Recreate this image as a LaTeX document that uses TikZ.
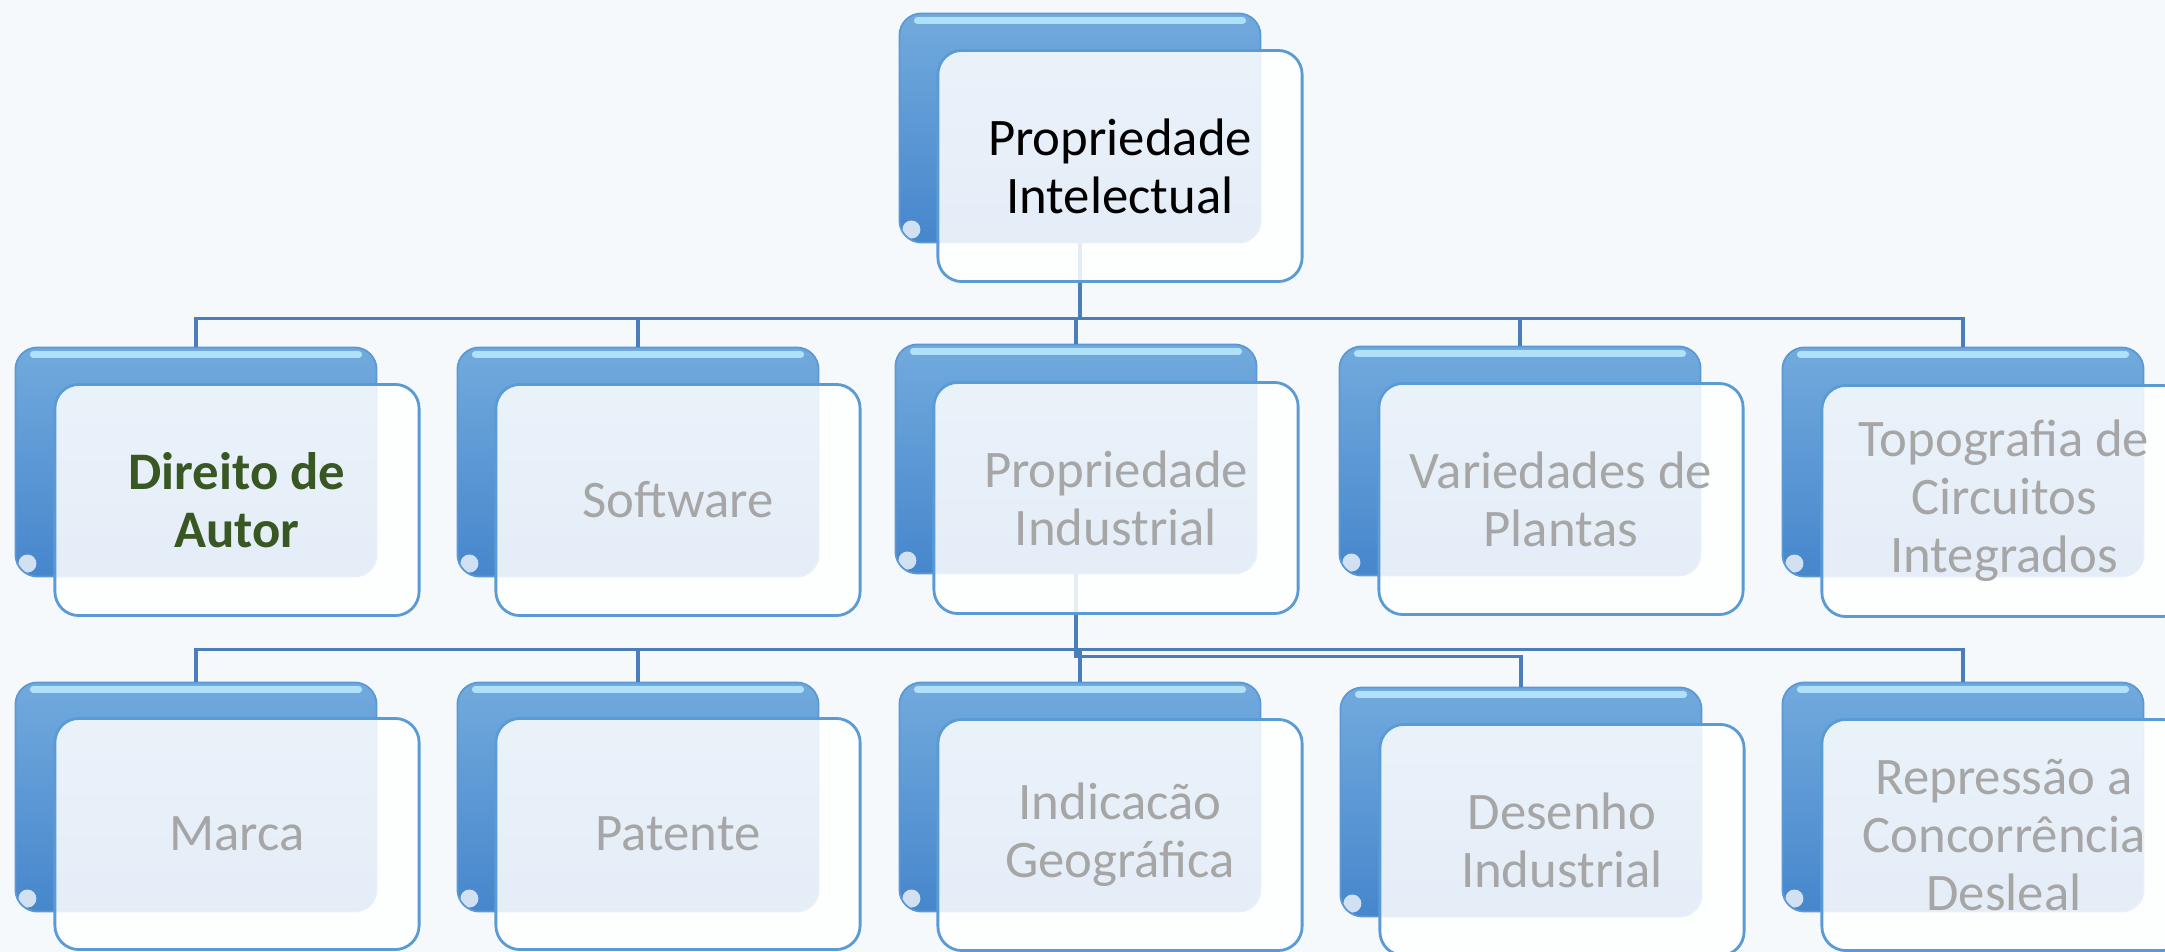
\documentclass[tikz,border=0pt]{standalone}
\usepackage{fontspec}
\setmainfont{Carlito}
\usepackage{tikz}

\definecolor{paper}{HTML}{F5F9FB}
\definecolor{bluetop}{HTML}{72AADD}
\definecolor{bluebot}{HTML}{4686CC}
\definecolor{blueedge}{HTML}{5C98D3}
\definecolor{gloss}{HTML}{BFEFFF}
\definecolor{frameblue}{HTML}{5B9BD5}
\definecolor{linkblue}{HTML}{4A7EBB}
\definecolor{labelgray}{HTML}{A6A6A6}
\definecolor{autorgreen}{HTML}{385723}

\tikzset{
  back/.style={rectangle, rounded corners=0.22cm, minimum width=3.61cm,
    minimum height=2.29cm, top color=bluetop, bottom color=bluebot,
    draw=blueedge, line width=0.5pt,
    path picture={
      \draw[gloss, opacity=0.8, line width=2pt, line cap=round]
        ([xshift=0.18cm,yshift=-0.07cm]path picture bounding box.north west) --
        ([xshift=-0.18cm,yshift=-0.07cm]path picture bounding box.north east);
      \fill[white, opacity=0.75]
        ([xshift=0.12cm,yshift=0.13cm]path picture bounding box.south west) circle (0.09cm);
    }},
  front/.style={rectangle, rounded corners=0.24cm, minimum width=3.64cm,
    minimum height=2.31cm, fill=white, fill opacity=0.86, text opacity=1,
    draw=frameblue, line width=0.8pt, align=center, text=labelgray,
    font=\fontsize{15}{16.5}\selectfont},
  link/.style={draw=linkblue, line width=0.9pt}
}

\begin{document}
\begin{tikzpicture}[x=0.01cm, y=-0.01cm]
\useasboundingbox (0,0) rectangle (2165,952);
\fill[paper] (0,0) rectangle (2165,952);

% back boxes
\node[back] (pi-b) at (1080,128) {};
\node[back] (da-b) at (196,462) {};
\node[back] (sw-b) at (638,462) {};
\node[back] (pind-b) at (1076,459) {};
\node[back] (vp-b) at (1520,461) {};
\node[back] (tc-b) at (1963,462) {};
\node[back] (ma-b) at (196,797) {};
\node[back] (pa-b) at (638,797) {};
\node[back] (ig-b) at (1080,797) {};
\node[back] (di-b) at (1521,802) {};
\node[back] (rc-b) at (1963,797) {};

% links
\draw[link] (pi-b.south) -- ++(0,75) -| (da-b.north);
\draw[link] (pi-b.south) -- ++(0,75) -| (sw-b.north);
\draw[link] (pi-b.south) -- ++(0,75) -| (pind-b.north);
\draw[link] (pi-b.south) -- ++(0,75) -| (vp-b.north);
\draw[link] (pi-b.south) -- ++(0,75) -| (tc-b.north);
\draw[link] (pind-b.south) -- ++(0,75) -| (ma-b.north);
\draw[link] (pind-b.south) -- ++(0,75) -| (pa-b.north);
\draw[link] (pind-b.south) -- ++(0,75) -| (ig-b.north);
\draw[link] (pind-b.south) -- ++(0,82) -| (di-b.north);
\draw[link] (pind-b.south) -- ++(0,75) -| (rc-b.north);

% front boxes
\node[front, text=black] (pi) at (1120,166) {Propriedade\\Intelectual};
\node[front, text=autorgreen, font=\fontsize{15}{16.5}\selectfont\bfseries] (da) at (237,500) {Direito de\\Autor};
\node[front] (sw) at (678,500) {Software};
\node[front] (pind) at (1116,498) {Propriedade\\Industrial};
\node[front] (vp) at (1561,499) {Variedades de\\Plantas};
\node[front] (tc) at (2004,501) {Topografia de\\Circuitos\\Integrados};
\node[front] (ma) at (237,834) {Marca};
\node[front] (pa) at (678,834) {Patente};
\node[front] (ig) at (1120,835) {Indicacão\\Geográfica};
\node[front] (di) at (1562,840) {Desenho\\Industrial};
\node[front] (rc) at (2004,835) {Repressão a\\Concorrência\\Desleal};
\end{tikzpicture}
\end{document}
